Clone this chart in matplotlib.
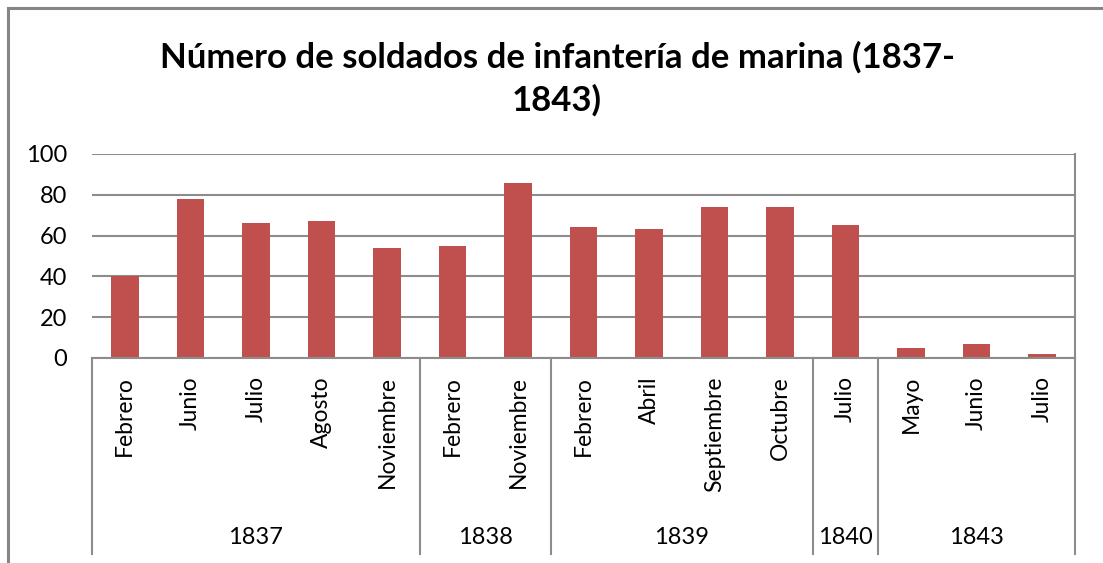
import matplotlib
matplotlib.use("Agg")
import matplotlib.pyplot as plt
from matplotlib.lines import Line2D
import numpy as np

plt.rcParams['font.family'] = ['Lato', 'DejaVu Sans']

months = ["Febrero", "Junio", "Julio", "Agosto", "Noviembre",
          "Febrero", "Noviembre",
          "Febrero", "Abril", "Septiembre", "Octubre",
          "Julio",
          "Mayo", "Junio", "Julio"]
values = [40, 78, 66, 67, 54, 55, 86, 64, 63, 74, 74, 65, 5, 7, 2]
years = ["1837", "1838", "1839", "1840", "1843"]
year_counts = [5, 2, 4, 1, 3]
title = "Número de soldados de infantería de marina (1837-\n1843)"

W, H = 1103, 563
fig = plt.figure(figsize=(W / 100, H / 100), dpi=100)

# outer chart border
fig.add_artist(Line2D([8 / W, 8 / W], [0, 1 - 8 / H], color="#868686", lw=2.2))
fig.add_artist(Line2D([8 / W, 1], [1 - 8 / H, 1 - 8 / H], color="#868686", lw=2.2))

x0, x1, ytop, ybot = 92, 1075, 154, 358
ax = fig.add_axes([x0 / W, (H - ybot) / H, (x1 - x0) / W, (ybot - ytop) / H])

n = len(values)
x = np.arange(n)
ax.bar(x, values, width=0.42, color="#C0504D", zorder=3)
ax.set_xlim(-0.5, n - 0.5)
ax.set_ylim(0, 100)
ax.set_yticks(range(0, 101, 20))
ax.yaxis.grid(True, color="#8C8C8C", lw=1.5, zorder=0)
ax.tick_params(axis="y", length=0, pad=18, labelsize=17)
ax.set_xticks(x)
ax.set_xticklabels(months, rotation=90, fontsize=16.5)
ax.tick_params(axis="x", length=0, pad=13)
for s in ["top", "right"]:
    ax.spines[s].set_visible(False)
ax.spines["left"].set_visible(False)
ax.spines["bottom"].set_color("#8C8C8C")
ax.spines["bottom"].set_linewidth(1.5)
ax.spines["bottom"].set_zorder(4)
# right border of plot area
ax.plot([1, 1], [0, 1], transform=ax.transAxes, color="#8C8C8C", lw=1.5, clip_on=False)

# group separators and year labels
trans = ax.get_xaxis_transform()
sep_bottom = -(554 - ybot) / (ybot - ytop)
bounds = np.concatenate([[0], np.cumsum(year_counts)]) - 0.5
for b in bounds:
    ax.plot([b, b], [0, sep_bottom], transform=trans, color="#8C8C8C", lw=1.5, clip_on=False)
year_y = -(537 - ybot) / (ybot - ytop)
for i, yl in enumerate(years):
    cx = (bounds[i] + bounds[i + 1]) / 2
    ax.text(cx, year_y, yl, transform=trans, ha="center", va="center", fontsize=17)

fig.text(557 / W, 1 - 79 / H, title, ha="center", va="center", fontsize=25,
         fontweight="bold", linespacing=1.38)

fig.savefig("out.png", dpi=100)
